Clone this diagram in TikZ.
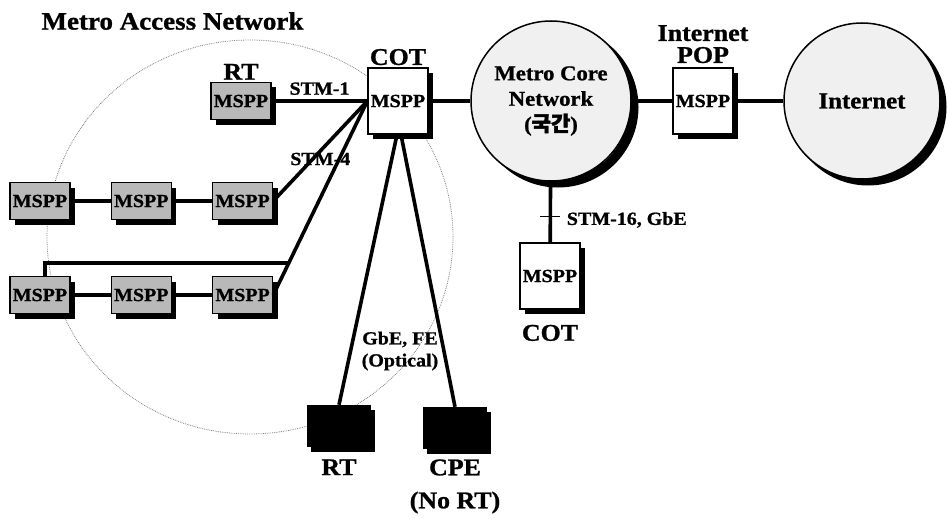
\documentclass[tikz,border=0pt]{standalone}
\usepackage{fontspec}
\setmainfont{Liberation Serif}[FakeStretch=1.08, BoldFeatures={FakeBold=1}]
\newfontfamily\krfont[FakeBold=2]{Noto Sans CJK KR}
\usetikzlibrary{positioning, shadows}

\begin{document}
\begin{tikzpicture}[x=1pt, y=-1pt,
  mspp/.style={
    rectangle, draw, line width=1.3pt, fill=gray!55,
    minimum width=60pt, minimum height=37pt, inner sep=0pt,
    font=\fontsize{18.5}{17}\selectfont\bfseries,
    drop shadow={shadow xshift=5pt, shadow yshift=-5pt, fill=black, opacity=1}
  },
  hub/.style={mspp, fill=white, minimum height=66pt},
  term/.style={
    rectangle, fill=black, minimum width=64pt, minimum height=42pt,
    drop shadow={shadow xshift=4pt, shadow yshift=-5pt, fill=black, opacity=1}
  },
  cloud/.style={
    circle, draw, line width=1.5pt, fill=gray!12, inner sep=0pt, align=center
  },
  rim/.style={draw=black, line width=9pt},
  link/.style={line width=3.6pt},
  lbl/.style={font=\fontsize{18.5}{22}\selectfont\bfseries, align=center},
  tag/.style={font=\fontsize{24}{33}\selectfont\bfseries, align=center, inner sep=1pt}
]
\useasboundingbox (0,0) rectangle (948,519);

% access ring
\draw[gray, densely dotted, line width=0.8pt] (250,237) ellipse [x radius=203pt, y radius=197pt];
\node[anchor=west, font=\fontsize{25}{27}\selectfont\bfseries] (title) at (38,21) {Metro Access Network};

% central office
\node[hub] (cot) at (398,101) {MSPP};
\node[tag, above=1pt of cot] (cotlbl) {COT};

% remote terminals
\node[mspp] (rt) at (241,101) {MSPP};
\node[tag, above=1pt of rt] (rtlbl) {RT};

\node[mspp] (a1) at (40,201) {MSPP};
\node[mspp, right=40pt of a1] (a2) {MSPP};
\node[mspp, right=40pt of a2] (a3) {MSPP};

\node[mspp] (b1) at (40,295) {MSPP};
\node[mspp, right=40pt of b1] (b2) {MSPP};
\node[mspp, right=40pt of b2] (b3) {MSPP};

\node[term] (rtb) at (339,426) {};
\node[term] (cpe) at (455,428) {};
\node[tag, below=11pt of rtb] (rtblbl) {RT};
\node[tag, below=9pt of cpe] (cpelbl) {CPE\\(No RT)};

% core side (shadow rims first)
\draw[rim] (558,107) circle [radius=76pt];
\draw[rim] (868,107) circle [radius=74pt];
\node[cloud, minimum size=160pt, font=\fontsize{21}{25.5}\selectfont\bfseries] (core) at (551,101)
  {Metro Core\\Network\\({\krfont 국간})};
\node[hub] (pop) at (703,101) {MSPP};
\node[tag, above=3pt of pop, font=\fontsize{24}{22}\selectfont\bfseries] (poplbl) {Internet\\POP};
\node[cloud, minimum size=156pt, font=\fontsize{23}{22}\selectfont\bfseries] (inet) at (862,101) {Internet};

\node[hub] (cot2) at (550,276) {MSPP};
\node[tag, below=14pt of cot2] (cot2lbl) {COT};

% links
\draw[link] (rt) -- node[lbl, above=1pt] {STM-1} (cot.west);
\draw[link] (a1) -- (a2);
\draw[link] (a2) -- (a3);
\draw[link] (a3.east) -- node[lbl, pos=0.5, yshift=-8pt] {STM-4} (cot.west);
\draw[link] (b1) -- (b2);
\draw[link] (b2) -- (b3);
\draw[link] (b3.east) -- coordinate[pos=0.166] (jn) (cot.west);
\draw[link] ([xshift=5pt]b1.north) |- (jn);
\draw[link] ([xshift=-1pt]cot.south) -- (rtb.north);
\draw[link] ([xshift=3pt]cot.south) -- (cpe.north);
\node[lbl] (gbe) at (400,351) {GbE, FE\\(Optical)};

\draw[link] (cot) -- (core);
\draw[link] (core) -- (pop);
\draw[link] (pop) -- (inet);
\draw[link] (core) -- coordinate[pos=0.58] (tk) (cot2);
\draw[line width=1.2pt] ([xshift=-10pt]tk) -- ([xshift=10pt]tk);
\node[lbl, anchor=west] (stm16) at ([xshift=13pt,yshift=-3pt]tk) {STM-16, GbE};
\end{tikzpicture}
\end{document}
